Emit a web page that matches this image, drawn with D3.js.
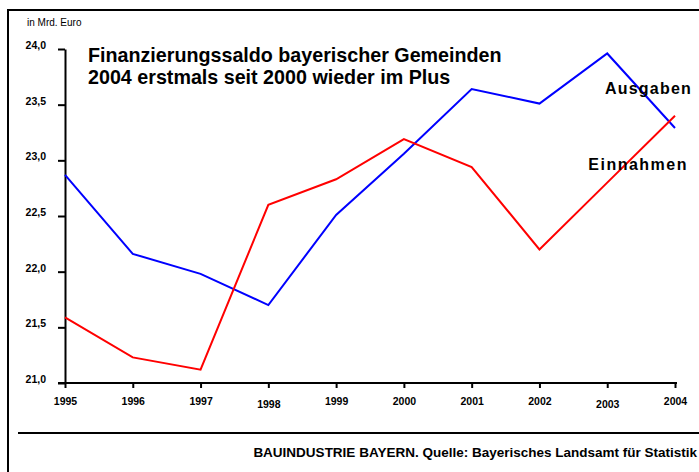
<!DOCTYPE html>
<html>
<head>
<meta charset="utf-8">
<script src="https://cdn.jsdelivr.net/npm/d3@7"></script>
<style>
  html, body { margin: 0; padding: 0; background: #fff; }
  svg { display: block; font-family: "Liberation Sans", Arial, sans-serif; }
</style>
</head>
<body>
<svg id="chart" width="699" height="472"></svg>
<script>
// ---- data ----
const years = [1995, 1996, 1997, 1998, 1999, 2000, 2001, 2002, 2003, 2004];
const ausgaben = [22.87, 22.16, 21.98, 21.70, 22.51, 23.06, 23.64, 23.51, 23.96, 23.29];
const einnahmen = [21.59, 21.23, 21.12, 22.60, 22.83, 23.19, 22.94, 22.20, 22.80, 23.40];
const yTicks = [21.0, 21.5, 22.0, 22.5, 23.0, 23.5, 24.0];
const loweredYears = [1998, 2003];
const titleLines = ["Finanzierungssaldo bayerischer Gemeinden", "2004 erstmals seit 2000 wieder im Plus"];
const unitLabel = "in Mrd. Euro";
const seriesLabels = ["Ausgaben", "Einnahmen"];
const sourceText = "BAUINDUSTRIE BAYERN. Quelle: Bayerisches Landsamt für Statistik";

const svg = d3.select("#chart");

// frame
svg.append("path")
  .attr("d", "M8,472 L8,10 L700,10")
  .attr("fill", "none").attr("stroke", "#000").attr("stroke-width", 2);
svg.append("line")
  .attr("x1", 18).attr("x2", 700).attr("y1", 433).attr("y2", 433)
  .attr("stroke", "#000").attr("stroke-width", 2);

// scales
const x = d3.scaleLinear().domain([1995, 2004]).range([65, 675]);
const y = d3.scaleLinear().domain([21, 24]).range([383, 49]);

// y axis
const yAxis = svg.append("g").attr("transform", "translate(65,0)")
  .call(d3.axisLeft(y).tickValues(yTicks).tickSize(7).tickSizeOuter(0).tickPadding(12)
    .tickFormat(d => d3.format(".1f")(d).replace(".", ",")));
yAxis.select(".domain").attr("stroke-width", 2);
yAxis.selectAll(".tick line").attr("stroke-width", 2);
yAxis.selectAll(".tick text")
  .attr("font-family", "Liberation Sans, Arial, sans-serif")
  .attr("font-size", 10.5).attr("font-weight", "bold").attr("fill", "#000")
  .attr("dy", "-0.05em");

// x axis
const xAxis = svg.append("g").attr("transform", "translate(0,383)")
  .call(d3.axisBottom(x).tickValues(years).tickSize(5).tickSizeOuter(0).tickPadding(10)
    .tickFormat(d3.format("d")));
xAxis.select(".domain").remove();
xAxis.append("line")
  .attr("x1", x(1995) - 7).attr("x2", x(2004) + 2).attr("y1", 0).attr("y2", 0)
  .attr("stroke", "#000").attr("stroke-width", 2);
xAxis.selectAll(".tick line").attr("stroke-width", 2);
xAxis.selectAll(".tick text")
  .attr("font-family", "Liberation Sans, Arial, sans-serif")
  .attr("font-size", 10.5).attr("font-weight", "bold").attr("fill", "#000")
  .attr("dy", d => loweredYears.includes(d) ? "0.95em" : "0.68em");

// lines
const line = d3.line().x((d, i) => x(years[i])).y(d => y(d));
svg.append("path").datum(ausgaben)
  .attr("d", line).attr("fill", "none").attr("stroke", "#0000ff").attr("stroke-width", 2);
svg.append("path").datum(einnahmen)
  .attr("d", line).attr("fill", "none").attr("stroke", "#ff0000").attr("stroke-width", 2);

// unit label
svg.append("text").attr("x", 27).attr("y", 26)
  .attr("font-size", 10).attr("fill", "#000").text(unitLabel);

// title
svg.append("text").attr("x", 88).attr("y", 62)
  .attr("font-size", 19.7).attr("font-weight", "bold").attr("fill", "#000")
  .selectAll("tspan").data(titleLines).enter().append("tspan")
  .attr("x", 88).attr("dy", (d, i) => i === 0 ? 0 : 22).text(d => d);

// series labels
svg.append("text").attr("x", 692).attr("y", 94).attr("text-anchor", "end")
  .attr("font-size", 16).attr("font-weight", "bold").attr("letter-spacing", 1.2)
  .attr("fill", "#000").text(seriesLabels[0]);
svg.append("text").attr("x", 688).attr("y", 170).attr("text-anchor", "end")
  .attr("font-size", 16).attr("font-weight", "bold").attr("letter-spacing", 1.5)
  .attr("fill", "#000").text(seriesLabels[1]);

// source
svg.append("text").attr("x", 697).attr("y", 457).attr("text-anchor", "end")
  .attr("font-size", 13.5).attr("font-weight", "bold").attr("fill", "#000").text(sourceText);
</script>
</body>
</html>
